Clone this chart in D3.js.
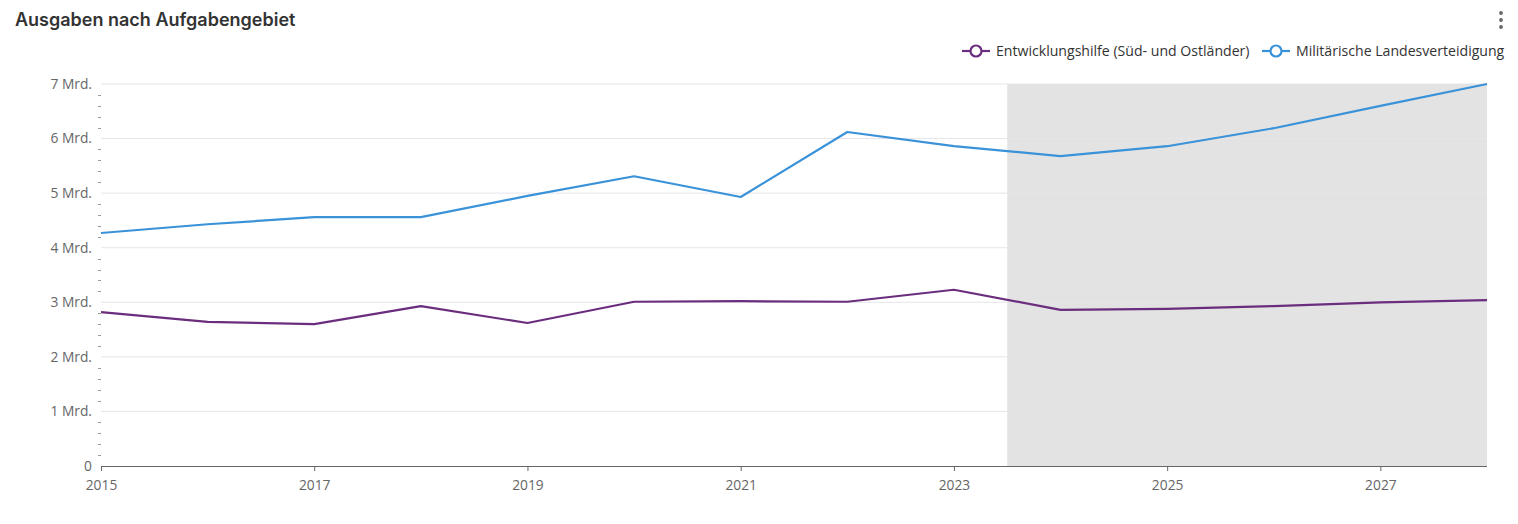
<!DOCTYPE html>
<html><head><meta charset="utf-8">
<script src="https://cdn.jsdelivr.net/npm/d3@7/dist/d3.min.js"></script>
<style>
body{margin:0;background:#fff;}
svg{display:block;}
</style></head>
<body><svg id="c" width="1518" height="524"></svg>
<script>
const years = [2015,2016,2017,2018,2019,2020,2021,2022,2023,2024,2025,2026,2027,2028];
const entwicklung = [2.82,2.64,2.60,2.93,2.62,3.01,3.02,3.01,3.23,2.86,2.88,2.93,3.00,3.04];
const militaer = [4.27,4.43,4.56,4.56,4.95,5.31,4.93,6.12,5.86,5.68,5.86,6.19,6.60,7.00];
const seriesNames = ["Entwicklungshilfe (Süd- und Ostländer)","Militärische Landesverteidigung"];
const seriesColors = ["#6b2d7d","#3a92d8"];
const yTicks = [0,1,2,3,4,5,6,7];
const xTicks = [2015,2017,2019,2021,2023,2025,2027];
const forecastStart = 2023.5;
const title = "Ausgaben nach Aufgabengebiet";

const svg = d3.select("#c");
const font = "'Open Sans', 'Noto Sans', sans-serif";
const x = d3.scaleLinear().domain([2015,2028]).range([101,1487]);
const y = d3.scaleLinear().domain([0,7]).range([466,84]);

svg.append("text").attr("x",15).attr("y",26).text(title)
  .attr("font-family","Inter, 'Noto Sans', sans-serif").attr("font-weight",600)
  .attr("font-size",18).attr("fill","#333");

// menu dots
[13,20,27].forEach(cy=>svg.append("circle").attr("cx",1501).attr("cy",cy).attr("r",1.9).attr("fill","#666"));

// forecast band
svg.append("rect").attr("x",x(forecastStart)).attr("y",y(7))
  .attr("width",x(2028)-x(forecastStart)).attr("height",y(0)-y(7)).attr("fill","#e3e3e3");

// grid
svg.append("g").selectAll("line").data(yTicks.filter(d=>d>0)).join("line")
  .attr("x1",x(2015)).attr("x2",x(2028)).attr("y1",d=>y(d)).attr("y2",d=>y(d))
  .attr("stroke","#e6e6ea").attr("stroke-width",1);

// minor ticks
const minor = d3.range(0,7.0001,0.2).map(v=>+v.toFixed(1)).filter(v=>!yTicks.includes(v));
svg.append("g").selectAll("line").data(minor).join("line")
  .attr("x1",98).attr("x2",101).attr("y1",d=>Math.round(y(d))+0.5).attr("y2",d=>Math.round(y(d))+0.5)
  .attr("stroke","#999").attr("stroke-width",1);

// y axis labels
const yAxis = d3.axisLeft(y).tickValues(yTicks).tickSize(0).tickPadding(9)
  .tickFormat(d=>d===0?"0":d+" Mrd.");
const gy = svg.append("g").attr("transform","translate(101,0)").call(yAxis);
gy.select(".domain").remove();
gy.selectAll("text").attr("font-family",font).attr("font-size",13.8).attr("fill","#666");

// x axis
const xAxis = d3.axisBottom(x).tickValues(xTicks).tickSize(5).tickPadding(8).tickFormat(d3.format("d"));
const gx = svg.append("g").attr("transform","translate(0,466)").call(xAxis);
gx.select(".domain").attr("stroke","#666").attr("d","M101,0.5H1487");
gx.selectAll("line").attr("stroke","#666");
gx.selectAll("text").attr("font-family",font).attr("font-size",13.8).attr("fill","#666").attr("dy","0.8em");

// lines
const line = d3.line().x((d,i)=>x(years[i])).y(d=>y(d));
[entwicklung, militaer].forEach((s,i)=>{
  svg.append("path").datum(s).attr("d",line).attr("fill","none")
    .attr("stroke",seriesColors[i]).attr("stroke-width",2.2).attr("stroke-linejoin","round");
});

// legend
const legendX = [962, 1262];
seriesNames.forEach((n,i)=>{
  const g = svg.append("g").attr("transform",`translate(${legendX[i]},51)`);
  g.append("line").attr("x1",0).attr("x2",28).attr("y1",0).attr("y2",0).attr("stroke",seriesColors[i]).attr("stroke-width",2.2);
  g.append("circle").attr("cx",14).attr("cy",0).attr("r",5.5).attr("fill","#fff").attr("stroke",seriesColors[i]).attr("stroke-width",2.2);
  g.append("text").attr("x",34).attr("y",5).text(n).attr("font-family",font).attr("font-size",14.1).attr("fill","#333");
});
</script></body></html>
